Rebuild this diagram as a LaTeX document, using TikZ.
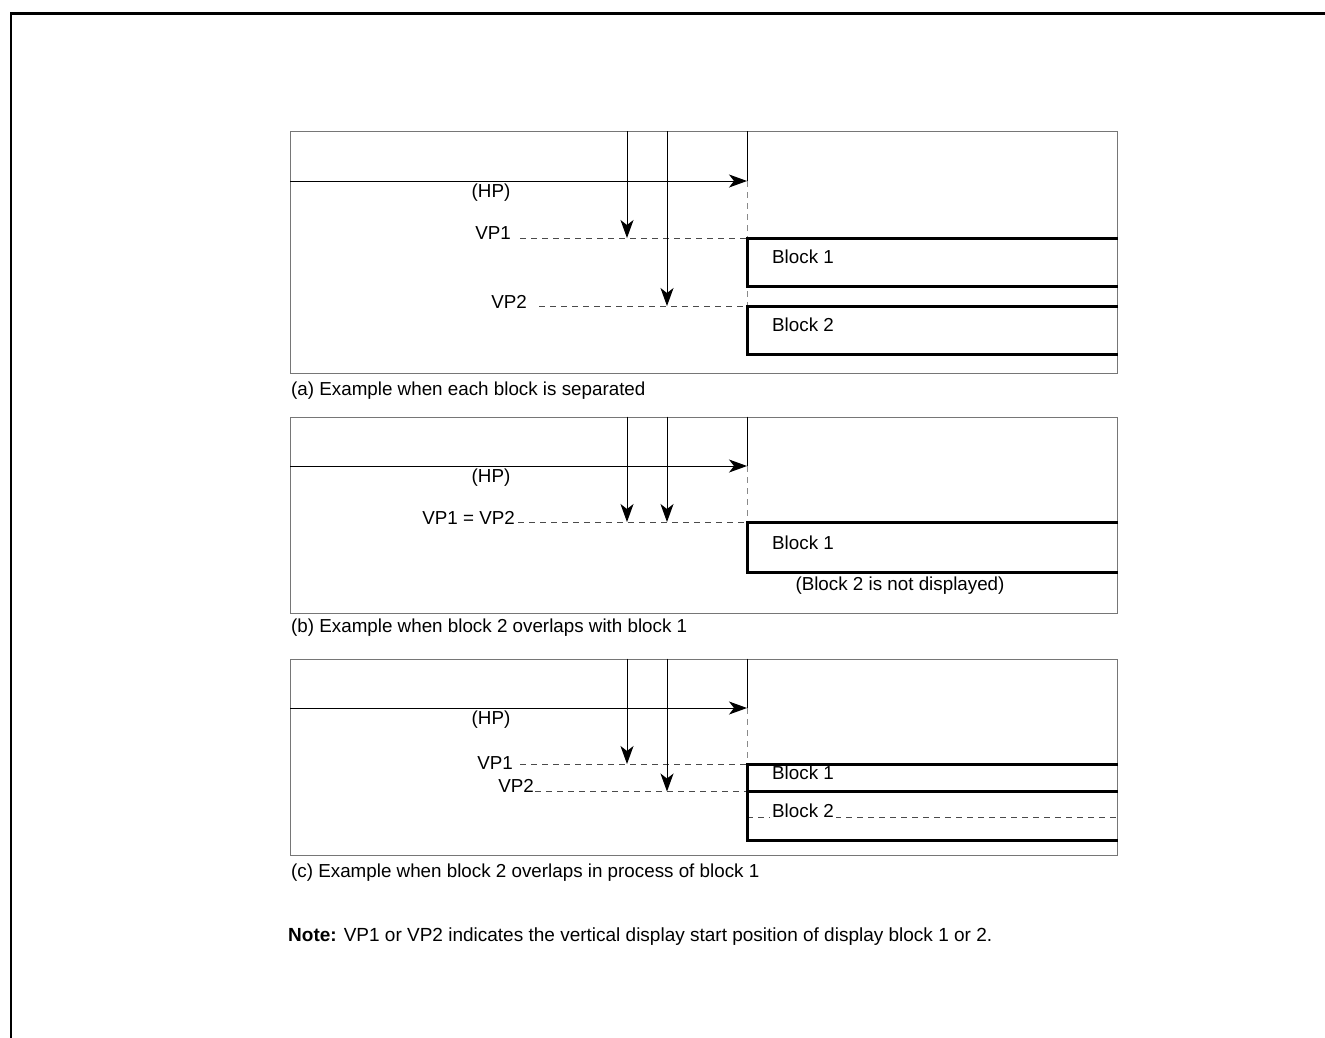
\documentclass[tikz,border=0pt]{standalone}
\usepackage{fontspec}
\setmainfont{Liberation Sans}
\usetikzlibrary{arrows.meta}
\definecolor{boxgray}{HTML}{767676}
\definecolor{dashcol}{HTML}{4A4A4A}
\definecolor{vdashcol}{HTML}{8A8A8A}
\begin{document}
\begin{tikzpicture}[x=1pt,y=-1pt,
  panel/.style={draw=boxgray, line width=1.3pt},
  thinline/.style={line width=1pt, black},
  arr/.style={thinline, -{Stealth[length=18pt,width=13pt,inset=5pt]}},
  vpdash/.style={draw=dashcol, line width=1pt, dash pattern=on 6pt off 5pt},
  vdash/.style={draw=vdashcol, line width=1pt, dash pattern=on 6pt off 5pt},
  blk/.style={line width=3pt, black},
  lbl/.style={inner sep=0pt, font=\fontsize{18.8}{22}\selectfont},
  frame/.style={line width=2.4pt, black}]
\useasboundingbox (0,0) rectangle (1325,1037);
% outer frame
\coordinate (fr1) at (11,1040);
\coordinate (fr2) at (11,13.5);
\coordinate (fr3) at (1330,13.5);
\draw[frame] (fr1) -- (fr2) -- (fr3);

% ================= panel (a) =================
\node[panel, minimum width=827pt, minimum height=242pt, inner sep=0pt, anchor=north west] (a-box) at (290,131) {};
\coordinate (a-hp0) at (290,181);
\coordinate (a-hp1) at (747,181);
\coordinate (a-top) at (747,131);
\coordinate (a-t1) at (627,131);
\coordinate (a-t2) at (667,131);
\coordinate (a-v1) at (627,238);
\coordinate (a-v2) at (667,306);
\coordinate (a-e1) at (747,238);
\coordinate (a-e2) at (747,306);
\draw[thinline] (a-top) -- (a-hp1);
\draw[vdash] (a-hp1) -- (a-e2);
\draw[arr] (a-hp0) -- (a-hp1);
\node[lbl, anchor=base] (a-hp) at (491,197) {(HP)};
\node[lbl, anchor=base east] (a-vp1) at (511,239) {VP1};
\node[lbl, anchor=base east] (a-vp2) at (527,308) {VP2};
\coordinate (a-d1) at (520,238);
\coordinate (a-d2) at (539,306);
\draw[vpdash] (a-d1) -- (a-e1);
\draw[vpdash] (a-d2) -- (a-e2);
\draw[arr] (a-t1) -- (a-v1);
\draw[arr] (a-t2) -- (a-v2);
\draw[blk] (1118,238) -- (747,238) -- (747,286) -- (1118,286);
\draw[blk] (1118,306) -- (747,306) -- (747,354) -- (1118,354);
\node[lbl, anchor=base west] (a-b1) at (772,263.5) {Block 1};
\node[lbl, anchor=base west] (a-b2) at (772,331.5) {Block 2};
\node[lbl, anchor=base west] (a-cap) at (291,395) {(a) Example when each block is separated};

% ================= panel (b) =================
\node[panel, minimum width=827pt, minimum height=196pt, inner sep=0pt, anchor=north west] (b-box) at (290,416.5) {};
\coordinate (b-hp0) at (290,466);
\coordinate (b-hp1) at (747,466);
\coordinate (b-top) at (747,416.5);
\coordinate (b-t1) at (627,416.5);
\coordinate (b-t2) at (667,416.5);
\coordinate (b-v1) at (627,522);
\coordinate (b-v2) at (667,522);
\coordinate (b-e1) at (747,522);
\draw[thinline] (b-top) -- (b-hp1);
\draw[vdash] (b-hp1) -- (b-e1);
\draw[arr] (b-hp0) -- (b-hp1);
\node[lbl, anchor=base] (b-hp) at (491,482) {(HP)};
\node[lbl, anchor=base east] (b-vp) at (515,524) {VP1 = VP2};
\coordinate (b-d1) at (518,522);
\draw[vpdash] (b-d1) -- (b-e1);
\draw[arr] (b-t1) -- (b-v1);
\draw[arr] (b-t2) -- (b-v2);
\draw[blk] (1118,522) -- (747,522) -- (747,572) -- (1118,572);
\node[lbl, anchor=base west] (b-b1) at (772,549) {Block 1};
\node[lbl, anchor=base] (b-nd) at (900,590.5) {(Block 2 is not displayed)};
\node[lbl, anchor=base west] (b-cap) at (291,632) {(b) Example when block 2 overlaps with block 1};

% ================= panel (c) =================
\node[panel, minimum width=827pt, minimum height=196pt, inner sep=0pt, anchor=north west] (c-box) at (290,658.5) {};
\coordinate (c-hp0) at (290,708);
\coordinate (c-hp1) at (747,708);
\coordinate (c-top) at (747,658.5);
\coordinate (c-t1) at (627,658.5);
\coordinate (c-t2) at (667,658.5);
\coordinate (c-v1) at (627,764);
\coordinate (c-v2) at (667,791.5);
\coordinate (c-e1) at (747,764);
\coordinate (c-e2) at (747,791.5);
\draw[thinline] (c-top) -- (c-hp1);
\draw[vdash] (c-hp1) -- (c-e1);
\draw[arr] (c-hp0) -- (c-hp1);
\node[lbl, anchor=base] (c-hp) at (491,724) {(HP)};
\node[lbl, anchor=base east] (c-vp1) at (513,769) {VP1};
\node[lbl, anchor=base east] (c-vp2) at (534,792) {VP2};
\coordinate (c-d1) at (520,764);
\coordinate (c-d2) at (535,791.5);
\draw[vpdash] (c-d1) -- (c-e1);
\draw[vpdash] (c-d2) -- (c-e2);
\draw[arr] (c-t1) -- (c-v1);
\draw[arr] (c-t2) -- (c-v2);
\coordinate (c-l3) at (747,817);
\coordinate (c-r3) at (1117,817);
\draw[vpdash] (c-l3) -- (c-r3);
\draw[blk] (1118,764) -- (747,764) -- (747,840) -- (1118,840);
\draw[blk] (747,791.5) -- (1118,791.5);
\node[lbl, anchor=base west] (c-b1) at (772,779.5) {Block 1};
\node[lbl, anchor=base west, fill=white, inner xsep=2pt, inner ysep=1.5pt] (c-b2) at (770,817) {Block 2};
\node[lbl, anchor=base west] (c-cap) at (291,877) {(c) Example when block 2 overlaps in process of block 1};

% ================= note =================
\node[lbl, anchor=base west, font=\fontsize{19}{23}\selectfont] (note) at (288,941) {\textbf{Note:} VP1 or VP2 indicates the vertical display start position of display block 1 or 2.};
\end{tikzpicture}
\end{document}
